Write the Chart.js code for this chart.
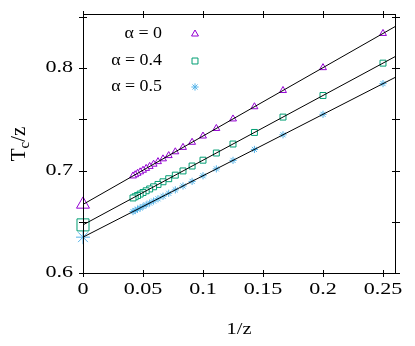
<!DOCTYPE html>
<html>
<head>
<meta charset="utf-8">
<script src="https://cdn.jsdelivr.net/npm/chart.js@4"></script>
<style>
  html, body { margin: 0; padding: 0; background: #fff; }
  #wrap { width: 415px; height: 346px; }
</style>
</head>
<body>
<div id="wrap"><canvas id="tcChart" width="415" height="346"></canvas></div>
<script>
// z values of the simulated lattices, x axis is 1/z
const zValues = [4, 5, 6, 7, 8, 9, 10, 11, 12, 13, 14, 15, 16, 17, 18, 19, 20, 21, 22, 23, 24];

const tcAlpha0 = [0.834, 0.8006, 0.7783, 0.7624, 0.7505, 0.7412, 0.7338, 0.7277, 0.7227, 0.7184, 0.7147,
                  0.7115, 0.7088, 0.7063, 0.7041, 0.7022, 0.7004, 0.6988, 0.6974, 0.6960, 0.6948];
const tcAlpha04 = [0.805, 0.7734, 0.7523, 0.7373, 0.726, 0.7172, 0.7102, 0.7045, 0.6997, 0.6956, 0.6921,
                   0.6891, 0.6865, 0.6842, 0.6821, 0.6803, 0.6786, 0.6771, 0.6757, 0.6745, 0.6733];
const tcAlpha05 = [0.785, 0.755, 0.735, 0.7207, 0.71, 0.7017, 0.695, 0.6895, 0.685, 0.6812, 0.6779,
                   0.675, 0.6725, 0.6703, 0.6683, 0.6666, 0.665, 0.6636, 0.6623, 0.6611, 0.66];

// linear fits: intercept = extrapolated value at 1/z = 0
const fitIntercept = [0.667, 0.647, 0.635];
const fitSlope = [0.668, 0.632, 0.600];

const seriesLabels = ["\u03b1 = 0", "\u03b1 = 0.4", "\u03b1 = 0.5"];
const seriesColors = ["#9400D3", "#009E73", "#56B4E9"];
const seriesStyles = ["triangle", "rect", "star"];

const xTicks = [0, 0.05, 0.1, 0.15, 0.2, 0.25];
const xTickLabels = ["0", "0.05", "0.1", "0.15", "0.2", "0.25"];
const yTicks = [0.6, 0.65, 0.7, 0.75, 0.8, 0.85];
const yLabelTicks = [0.6, 0.7, 0.8];
const yTickLabels = ["0.6", "0.7", "0.8"];

const X_MIN = 0, X_MAX = 0.26, Y_MIN = 0.6, Y_MAX = 0.853;
const serif = "'Liberation Serif', 'Times New Roman', serif";

const allSeries = [tcAlpha0, tcAlpha04, tcAlpha05];
const smallRadius = [4, 4.2, 3.6];
const bigRadius = [7.5, 8.5, 7];

const datasets = [];
allSeries.forEach((vals, i) => {
    datasets.push({
        label: seriesLabels[i],
        data: zValues.map((z, k) => ({ x: 1 / z, y: vals[k] })),
        pointStyle: seriesStyles[i],
        pointRadius: smallRadius[i],
        pointBorderColor: seriesColors[i],
        pointBackgroundColor: "#fff",
        borderColor: seriesColors[i],
        pointBorderWidth: 1,
        showLine: false,
        order: 3
    });
    datasets.push({
        label: seriesLabels[i] + " extrapolated",
        data: [{ x: 0, y: fitIntercept[i] }],
        pointStyle: seriesStyles[i],
        pointRadius: bigRadius[i],
        pointBorderColor: seriesColors[i],
        pointBackgroundColor: "#fff",
        borderColor: seriesColors[i],
        pointBorderWidth: 1,
        showLine: false,
        clip: false,
        order: 3
    });
    datasets.push({
        label: "fit " + i,
        data: [{ x: 0, y: fitIntercept[i] }, { x: X_MAX, y: fitIntercept[i] + fitSlope[i] * X_MAX }],
        showLine: true,
        borderColor: "#000",
        borderWidth: 1,
        pointRadius: 0,
        order: 1
    });
});

// gnuplot-like text is drawn a bit wider than plain Times
function wideText(ctx, text, x, y, size, sx, align) {
    ctx.save();
    ctx.font = size + "px " + serif;
    ctx.fillStyle = "#000";
    ctx.translate(x, y);
    ctx.scale(sx, 1);
    ctx.textAlign = align;
    ctx.textBaseline = "middle";
    ctx.fillText(text, 0, 0);
    ctx.restore();
}

// frame, ticks on all four sides, labels, titles and key
const framePlugin = {
    id: "frame",
    afterDraw(chart) {
        const { ctx, chartArea: a, scales } = chart;
        ctx.save();
        ctx.strokeStyle = "#000";
        ctx.lineWidth = 1;
        ctx.strokeRect(a.left + 0.5, a.top + 0.5, a.right - a.left, a.bottom - a.top);
        ctx.beginPath();
        xTicks.forEach(v => {
            const px = Math.round(scales.x.getPixelForValue(v)) + 0.5;
            ctx.moveTo(px, a.bottom - 3); ctx.lineTo(px, a.bottom + 4);
            ctx.moveTo(px, a.top - 3); ctx.lineTo(px, a.top + 4);
        });
        yTicks.forEach(v => {
            if (v > Y_MAX) return;
            const py = Math.round(scales.y.getPixelForValue(v)) + 0.5;
            ctx.moveTo(a.left - 4, py); ctx.lineTo(a.left + 4, py);
            ctx.moveTo(a.right - 3, py); ctx.lineTo(a.right + 5, py);
        });
        ctx.stroke();
        ctx.restore();

        // tick labels
        xTicks.forEach((v, i) => {
            wideText(ctx, xTickLabels[i], scales.x.getPixelForValue(v), a.bottom + 17, 16, 1.38, "center");
        });
        yLabelTicks.forEach((v, i) => {
            wideText(ctx, yTickLabels[i], a.left - 10, scales.y.getPixelForValue(v), 16, 1.38, "right");
        });

        // x title
        wideText(ctx, "1/z", (a.left + a.right) / 2, 330, 17, 1.2, "center");

        // y axis title T_c/z
        ctx.save();
        ctx.fillStyle = "#000";
        ctx.translate(25, 144);
        ctx.rotate(-Math.PI / 2);
        ctx.textBaseline = "alphabetic";
        ctx.textAlign = "left";
        ctx.font = "21px " + serif;
        const wT = ctx.measureText("T").width;
        ctx.font = "15px " + serif;
        const wc = ctx.measureText("c").width;
        ctx.font = "21px " + serif;
        const wz = ctx.measureText("/z").width;
        const x0 = -(wT + wc + wz) / 2;
        ctx.fillText("T", x0, 0);
        ctx.font = "15px " + serif;
        ctx.fillText("c", x0 + wT, 4);
        ctx.font = "21px " + serif;
        ctx.fillText("/z", x0 + wT + wc, 0);
        ctx.restore();

        // key
        const rows = [34, 61, 87];
        seriesLabels.forEach((lab, i) => {
            wideText(ctx, lab, 162, rows[i], 16, 1.12, "right");
            ctx.save();
            ctx.fillStyle = "#fff";
            ctx.strokeStyle = seriesColors[i];
            ctx.lineWidth = 1;
            Chart.helpers.drawPoint(ctx, { pointStyle: seriesStyles[i], radius: smallRadius[i], rotation: 0, borderWidth: 1 }, 195, rows[i]);
            ctx.restore();
        });
    }
};

const tcCtx = document.getElementById("tcChart");

if (tcCtx) {
    new Chart(tcCtx, {
        type: "scatter",
        data: { datasets: datasets },
        options: {
            responsive: false,
            animation: false,
            events: [],
            layout: { padding: { left: 0, right: 20, top: 14, bottom: 0 } },
            plugins: {
                legend: { display: false },
                tooltip: { enabled: false }
            },
            scales: {
                x: {
                    type: "linear",
                    min: X_MIN,
                    max: X_MAX,
                    afterBuildTicks: s => { s.ticks = xTicks.map(v => ({ value: v })); },
                    afterFit: s => { s.height = 73; },
                    grid: { display: false, drawTicks: false },
                    border: { display: false },
                    ticks: { display: false }
                },
                y: {
                    type: "linear",
                    min: Y_MIN,
                    max: Y_MAX,
                    afterBuildTicks: s => { s.ticks = yTicks.filter(v => v <= Y_MAX).map(v => ({ value: v })); },
                    afterFit: s => { s.width = 83; },
                    grid: { display: false, drawTicks: false },
                    border: { display: false },
                    ticks: { display: false }
                }
            }
        },
        plugins: [framePlugin]
    });
}
</script>
</body>
</html>
